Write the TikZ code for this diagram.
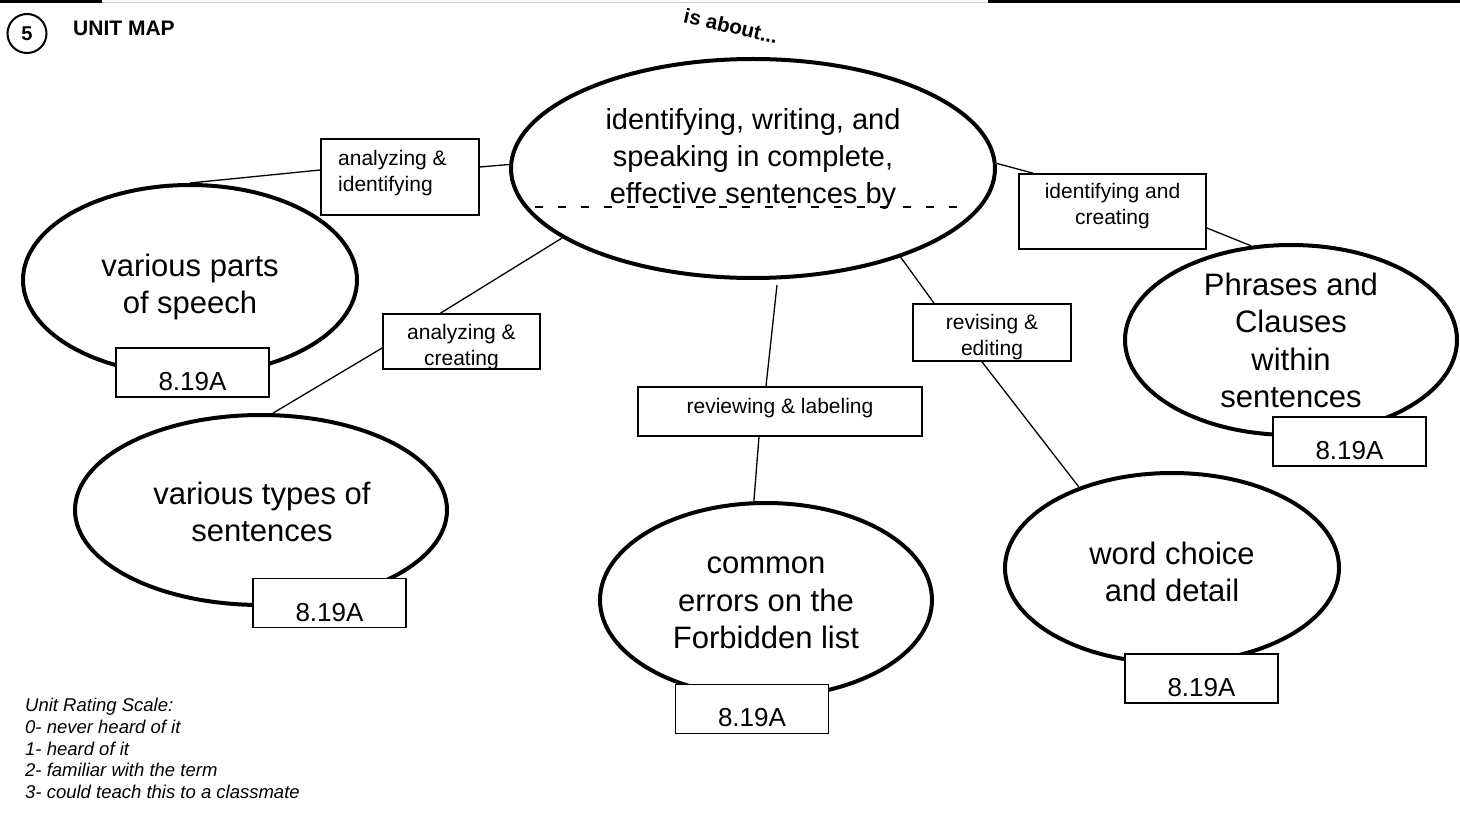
\documentclass[tikz,border=0pt]{standalone}
\usepackage{fontspec}
\setmainfont{Liberation Sans}
\usetikzlibrary{shapes.geometric}
\begin{document}
\begin{tikzpicture}[x=1pt,y=-1pt,
  oval/.style={ellipse, draw, line width=4pt, inner sep=0pt},
  ovaltxt/.style={inner sep=0pt, align=center, font=\fontsize{31}{37.5}\selectfont},
  lbox/.style={rectangle, draw, line width=1.7pt, inner sep=0pt, fill=white},
  lbl/.style={inner sep=0pt, align=center, font=\fontsize{21}{26}\selectfont},
  codetxt/.style={inner sep=0pt, font=\fontsize{26}{30}\selectfont},
  conn/.style={line width=1.3pt},
  divider/.style={line width=2pt, dash pattern=on 8pt off 15pt},
]
\useasboundingbox (0,0) rectangle (1460,821);
% top bars
\draw[line width=3pt] (0,1.5) -- (102,1.5);
\draw[black!20, line width=1.2pt] (102,2.8) -- (988,2.8);
\draw[line width=3pt] (988,1.5) -- (1460,1.5);
% header
\node[circle, draw, line width=2pt, minimum size=39pt, inner sep=0pt, font=\bfseries\fontsize{20}{24}\selectfont] (num) at (27,33.5) {5};
\node[anchor=base west, inner sep=0pt, font=\bfseries\fontsize{21}{24}\selectfont] (title) at (73,36) {UNIT MAP};
\node[font=\bfseries\fontsize{20.5}{24}\selectfont, rotate=-13, inner sep=0pt] (about) at (731,26) {is about...};
% main ellipse
\node[oval, minimum width=484pt, minimum height=219pt] (main) at (753,168.5) {};
\node[inner sep=0pt, align=center, font=\fontsize{29}{37}\selectfont] (mtext) at (753,159) {identifying, writing, and\\speaking in complete,\\effective sentences by};
\draw[divider] (535,207) -- (970,207);
% outer ellipses
\node[oval, minimum width=334pt, minimum height=190pt] (e1) at (190,280) {};
\node[ovaltxt] (e1t) at (190,287) {various parts\\of speech};
\node[oval, minimum width=372pt, minimum height=190pt] (e2) at (261,510) {};
\node[ovaltxt] (e2t) at (262,512) {various types of\\sentences};
\node[oval, minimum width=332pt, minimum height=194pt] (e3) at (766,600) {};
\node[ovaltxt] (e3t) at (766,603) {common\\errors on the\\Forbidden list};
\node[oval, minimum width=334pt, minimum height=190pt] (e4) at (1172,568) {};
\node[ovaltxt] (e4t) at (1172,572) {word choice\\and detail};
\node[oval, minimum width=332pt, minimum height=190pt] (e5) at (1291,340) {};
\node[ovaltxt] (e5t) at (1291,340.5) {Phrases and\\Clauses\\within\\sentences};
% label boxes
\node[lbox, minimum width=158pt, minimum height=76pt] (b1) at (400,177) {};
\node[lbl, align=left, anchor=west] (b1t) at (338,173) {analyzing \&\\identifying};
\node[lbox, minimum width=157pt, minimum height=55pt] (b2) at (461.5,341.5) {};
\node[lbl] (b2t) at (461.5,347.5) {analyzing \&\\creating};
\node[lbox, minimum width=284pt, minimum height=49pt] (b3) at (780,411.5) {};
\node[lbl] (b3t) at (780,408) {reviewing \& labeling};
\node[lbox, minimum width=158pt, minimum height=57pt] (b4) at (992,332.5) {};
\node[lbl] (b4t) at (992,337.5) {revising \&\\editing};
\node[lbox, minimum width=187pt, minimum height=75pt] (b5) at (1112.5,211.5) {};
\node[lbl] (b5t) at (1112.5,206.5) {identifying and\\creating};
% code boxes
\node[lbox, minimum width=153pt, minimum height=49pt] (c1) at (192.5,372.5) {};
\node[codetxt] (c1t) at (192.5,382) {8.19A};
\node[lbox, minimum width=153pt, minimum height=49pt] (c2) at (329.5,603) {};
\node[codetxt] (c2t) at (329.5,612.5) {8.19A};
\node[lbox, minimum width=153pt, minimum height=49pt] (c3) at (752,709) {};
\node[codetxt] (c3t) at (752,718) {8.19A};
\node[lbox, minimum width=153pt, minimum height=49pt] (c4) at (1201.5,678.5) {};
\node[codetxt] (c4t) at (1201.5,688) {8.19A};
\node[lbox, minimum width=153pt, minimum height=49pt] (c5) at (1349.5,441.5) {};
\node[codetxt] (c5t) at (1349.5,451) {8.19A};
% connectors
\draw[conn] (e1.north) -- ([yshift=7pt]b1.west);
\draw[conn] ([yshift=10pt]b1.east) -- ([yshift=4pt]main.west);
\draw[conn] (main.200) -- ([xshift=-21pt]b2.north);
\draw[conn] ([yshift=-6.5pt]b2.west) -- (e2.83);
\draw[conn] ([xshift=24pt,yshift=-5pt]main.south) -- ([xshift=-14pt]b3.north);
\draw[conn] ([xshift=-21pt]b3.south) -- (e3.97);
\draw[conn] (main.329) -- ([xshift=-58pt]b4.north);
\draw[conn] ([xshift=-10pt]b4.south) -- (e4.139);
\draw[conn] ([yshift=5pt]main.east) -- ([xshift=-79.5pt]b5.north);
\draw[conn] ([yshift=-16.5pt]b5.east) -- (e5.113);
% rating scale
\node[anchor=west, align=left, inner sep=0pt, font=\itshape\fontsize{18.5}{21.75}\selectfont] (scale) at (25,748.5) {Unit Rating Scale:\\0- never heard of it\\1- heard of it\\2- familiar with the term\\3- could teach this to a classmate};
\end{tikzpicture}
\end{document}
